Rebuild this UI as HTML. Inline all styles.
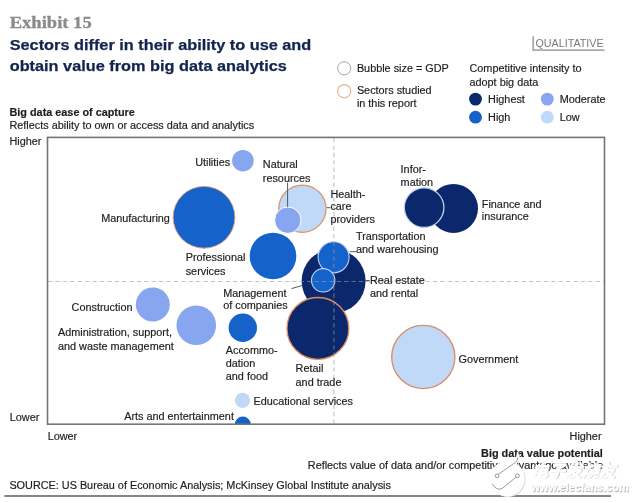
<!DOCTYPE html>
<html lang="en">
<head>
<meta charset="utf-8">
<title>Exhibit 15</title>
<style>
html,body{margin:0;padding:0;background:#fff;}
body{width:637px;height:503px;overflow:hidden;position:relative;}
svg{display:block;position:absolute;left:0;top:0;filter:blur(.35px);}
text{font-family:"Liberation Sans","Noto Sans CJK SC",sans-serif;font-size:10.85px;fill:#1e1e1e;stroke:#1e1e1e;stroke-width:.18px;}
.b{font-weight:bold;}
.ttl{font-size:15px;font-weight:bold;fill:#13244f;stroke:#13244f;stroke-width:.25px;}
.ex{stroke:#8a8a8a;stroke-width:.3px;font-family:"Liberation Serif",serif;font-size:17.6px;font-weight:bold;fill:#8a8a8a;}
.ql{font-size:10.5px;fill:#7a7a7a;stroke:none;}
.ld{stroke:#555;stroke-width:1;fill:none;}
</style>
</head>
<body>
<svg width="637" height="503" viewBox="0 0 637 503">
<rect x="0" y="0" width="637" height="503" fill="#fff"/>

<!-- header -->
<text class="ex" x="9.7" y="28.4" textLength="82" lengthAdjust="spacingAndGlyphs">Exhibit 15</text>
<text class="ttl" x="9.7" y="49.8" textLength="301.6" lengthAdjust="spacingAndGlyphs">Sectors differ in their ability to use and</text>
<text class="ttl" x="9.7" y="70.7" textLength="277.1" lengthAdjust="spacingAndGlyphs">obtain value from big data analytics</text>

<!-- qualitative tag -->
<path d="M533.2 36.3V50.2H604.5" fill="none" stroke="#aaa" stroke-width="1.8"/>
<text class="ql" x="535.4" y="47.2" textLength="68.3" lengthAdjust="spacingAndGlyphs">QUALITATIVE</text>

<!-- legend -->
<circle cx="344.2" cy="68.3" r="6.6" fill="#fff" stroke="#a4a4a4" stroke-width="1"/>
<circle cx="344.2" cy="91.2" r="6.6" fill="#fff" stroke="#e6b596" stroke-width="1.2"/>
<text x="356.9" y="71.5">Bubble size = GDP</text>
<text x="356.9" y="94">Sectors studied</text>
<text x="356.9" y="107.4">in this report</text>
<text x="469.5" y="71.5">Competitive intensity to</text>
<text x="469.5" y="85.7">adopt big data</text>
<circle cx="475.5" cy="99.1" r="6.4" fill="#0b286c"/>
<circle cx="475.5" cy="117.2" r="6.4" fill="#1462ca"/>
<circle cx="547.3" cy="99.1" r="6.4" fill="#88a5ef"/>
<circle cx="547.3" cy="117.2" r="6.4" fill="#c1d9f8"/>
<text x="488.1" y="102.9">Highest</text>
<text x="488.1" y="120.5">High</text>
<text x="559.7" y="102.9">Moderate</text>
<text x="559.7" y="120.5">Low</text>

<!-- axis titles -->
<text class="b" x="9.5" y="116">Big data ease of capture</text>
<text x="9.5" y="128.5">Reflects ability to own or access data and analytics</text>
<text x="9.5" y="145">Higher</text>
<text x="9.8" y="420.8">Lower</text>
<text x="47.7" y="439.7">Lower</text>
<text x="601.5" y="439.7" text-anchor="end">Higher</text>
<text class="b" x="602.8" y="456.6" text-anchor="end">Big data value potential</text>
<text x="603.2" y="468.7" text-anchor="end">Reflects value of data and/or competitive advantage available</text>

<!-- bubbles -->
<defs><clipPath id="fr"><rect x="47.5" y="137.3" width="557" height="286.9"/></clipPath></defs>
<g clip-path="url(#fr)">
<circle cx="242.9" cy="160.7" r="10.8" fill="#88a5ef"/>
<circle cx="204" cy="217.3" r="30.9" fill="#1462ca" stroke="#d9a08c" stroke-width="1"/>
<circle cx="302.4" cy="208.7" r="23.6" fill="#c1d9f8" stroke="#dd9468" stroke-width="1.3"/>
<circle cx="287.8" cy="220.2" r="13.2" fill="#88a5ef" stroke="#fff" stroke-width="1"/>
<circle cx="273" cy="256" r="23.3" fill="#1462ca"/>
<circle cx="333.6" cy="281" r="32" fill="#0b286c"/>
<circle cx="333.6" cy="257.3" r="15.5" fill="#1462ca" stroke="#bdd3f5" stroke-width="1.1"/>
<circle cx="323.2" cy="280.3" r="11.7" fill="#1462ca" stroke="#bdd3f5" stroke-width="1.1"/>
<circle cx="317.9" cy="328.4" r="30.9" fill="#0b286c" stroke="#e08a60" stroke-width="1.3"/>
<circle cx="453.5" cy="208.4" r="24.5" fill="#0b286c"/>
<circle cx="424.1" cy="207.6" r="19.8" fill="#0b286c" stroke="#c3d2f0" stroke-width="1.3"/>
<circle cx="152.8" cy="304.5" r="17" fill="#88a5ef"/>
<circle cx="196.3" cy="325.3" r="19.8" fill="#88a5ef"/>
<circle cx="242.8" cy="327.7" r="14.2" fill="#1462ca"/>
<circle cx="423.3" cy="357" r="31.6" fill="#c1d9f8" stroke="#d88f68" stroke-width="1.4"/>
<circle cx="242.5" cy="400.3" r="7.6" fill="#c1d9f8"/>
<circle cx="242.8" cy="424.6" r="8" fill="#1462ca"/>
</g>

<!-- dashed guides -->
<path d="M48 281.5H604" stroke="#9c9c9c" stroke-opacity=".6" stroke-width="1.15" stroke-dasharray="4.4 3" fill="none"/>
<path d="M333.9 138V424" stroke="#9c9c9c" stroke-opacity=".6" stroke-width="1.15" stroke-dasharray="4.4 3" fill="none"/>

<!-- frame -->
<rect x="47.5" y="137.4" width="557" height="286.8" fill="none" stroke="#747474" stroke-width="1.6"/>

<!-- leader lines -->
<path class="ld" d="M287.6 182.7V206.8"/>
<path class="ld" d="M326.7 207.7H330.5"/>
<path class="ld" d="M349.8 251.7H356"/>
<path class="ld" d="M365.6 280.5H369.5"/>
<path class="ld" d="M291.5 288.6L303 285.3"/>

<!-- labels -->
<text x="195.2" y="165.8">Utilities</text>
<text x="262.8" y="167.9">Natural</text>
<text x="262.8" y="181.6">resources</text>
<text x="101.2" y="222.2">Manufacturing</text>
<text x="330.4" y="197.7">Health-</text>
<text x="330.4" y="210.2">care</text>
<text x="330.4" y="223">providers</text>
<text x="400.6" y="172.6">Infor-</text>
<text x="400.6" y="186.2">mation</text>
<text x="481.8" y="208">Finance and</text>
<text x="481.8" y="220.4">insurance</text>
<text x="185.7" y="260.6">Professional</text>
<text x="185.7" y="274.6">services</text>
<text x="356" y="240">Transportation</text>
<text x="356" y="253">and warehousing</text>
<text x="370" y="284">Real estate</text>
<text x="370" y="297">and rental</text>
<text x="223.2" y="296.5">Management</text>
<text x="223.2" y="309.2">of companies</text>
<text x="71.6" y="310.5">Construction</text>
<text x="58" y="336">Administration, support,</text>
<text x="58" y="349.5">and waste management</text>
<text x="225.8" y="354">Accommo-</text>
<text x="225.8" y="367.2">dation</text>
<text x="225.8" y="380.3">and food</text>
<text x="295.6" y="371.8">Retail</text>
<text x="295.6" y="385.7">and trade</text>
<text x="458.6" y="362.5">Government</text>
<text x="253.5" y="405.3">Educational services</text>
<text x="233.9" y="420.4" text-anchor="end">Arts and entertainment</text>

<!-- source -->
<text x="9.4" y="488.5">SOURCE: US Bureau of Economic Analysis; McKinsey Global Institute analysis</text>
<path d="M4.3 496H611" stroke="#858585" stroke-width="2.1" fill="none"/>

<!-- watermark -->
<g>
<circle cx="508" cy="479.6" r="17.6" fill="#d9d9d9"/>
<circle cx="507.2" cy="478.9" r="17.5" fill="#fff"/>
<path d="M516 462.5L518.2 455.5" stroke="#fff" stroke-width="3.4" fill="none" stroke-linecap="round"/>
<path d="M498.4 474.4L515.6 462.2Q517.6 460.4 517.8 457.6" stroke="#8e8e8e" stroke-width="0.9" fill="none"/>
<path d="M516 477.2L502.6 488.2Q499.6 490.2 496.4 488.4Q493.6 486.6 492.4 484" stroke="#8e8e8e" stroke-width="0.9" fill="none"/>
<circle cx="497" cy="475.8" r="1.9" fill="#fff" stroke="#8e8e8e" stroke-width="0.9"/>
<circle cx="517.4" cy="475.8" r="1.9" fill="#fff" stroke="#8e8e8e" stroke-width="0.9"/>
<g style="font-weight:bold;font-style:italic">
<text x="532" y="477.4" textLength="84.5" lengthAdjust="spacingAndGlyphs" style="font-size:16.6px;fill:#b9b9b9;stroke:#b9b9b9;stroke-width:.7px">电子发烧友</text>
<text x="531.2" y="476.6" textLength="84.5" lengthAdjust="spacingAndGlyphs" style="font-size:16.6px;fill:#fff;stroke:#fff;stroke-width:.7px">电子发烧友</text>
<text x="532" y="491.8" textLength="97.5" lengthAdjust="spacingAndGlyphs" style="font-size:11.6px;fill:#b4b4b4;font-style:normal;stroke:#b4b4b4;stroke-width:.3px">www.elecfans.com</text>
<text x="531.2" y="491" textLength="97.5" lengthAdjust="spacingAndGlyphs" style="font-size:11.6px;fill:#fff;font-style:normal;stroke:#fff;stroke-width:.3px">www.elecfans.com</text>
</g>
</g>
</svg>
</body>
</html>
